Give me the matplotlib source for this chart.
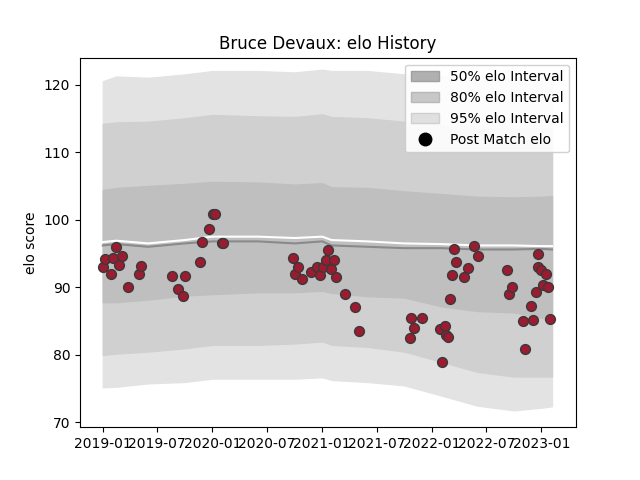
import matplotlib
matplotlib.use("Agg")
import matplotlib.pyplot as plt
import pandas as pd
from matplotlib.patches import Patch
from matplotlib.lines import Line2D

# band grid
band_dates = ["2019-01-01", "2019-02-15", "2019-06-01", "2019-10-01", "2020-01-01", "2020-06-01",
              "2020-10-01", "2021-01-01", "2021-02-01", "2021-06-01", "2021-10-01", "2022-02-01",
              "2022-06-01", "2022-10-01", "2023-01-01", "2023-02-05"]
median = [96.2, 96.4, 96.0, 96.5, 96.8, 96.8, 96.5, 96.8, 96.2, 96.0, 95.8, 95.8, 95.6, 95.6, 95.7, 95.6]
mean = [96.7, 96.9, 96.5, 97.0, 97.5, 97.5, 97.3, 97.5, 97.0, 96.8, 96.5, 96.4, 96.2, 96.2, 96.1, 96.1]
hi50 = [104.4, 104.7, 105.0, 105.3, 105.6, 105.5, 105.2, 105.4, 104.8, 104.7, 104.2, 103.8, 103.4, 103.3, 103.4, 103.5]
lo50 = [87.8, 87.8, 88.2, 88.8, 89.0, 89.3, 89.3, 89.5, 89.2, 88.7, 88.5, 87.2, 86.5, 86.3, 85.5, 85.3]
hi80 = [114.2, 114.4, 114.5, 115.0, 115.5, 115.3, 115.2, 115.6, 115.2, 115.0, 114.5, 114.0, 113.5, 113.5, 113.5, 113.5]
lo80 = [80.0, 80.2, 80.5, 81.0, 81.5, 81.5, 81.7, 82.0, 81.5, 81.2, 80.5, 79.0, 77.5, 76.8, 76.8, 76.8]
hi95 = [120.5, 121.2, 121.0, 121.5, 122.0, 122.0, 121.8, 122.2, 122.0, 122.0, 121.5, 121.2, 121.0, 121.0, 121.0, 121.0]
lo95 = [75.2, 75.3, 75.8, 76.0, 76.5, 76.5, 76.5, 76.7, 76.3, 76.0, 75.5, 74.0, 72.5, 71.8, 72.2, 72.4]

# post match elo
match_dates = ["2019-01-01", "2019-01-08", "2019-01-27", "2019-02-03", "2019-02-13", "2019-02-23",
               "2019-03-05", "2019-03-25", "2019-04-30", "2019-05-07", "2019-08-21", "2019-09-10",
               "2019-09-26", "2019-10-03", "2019-11-21", "2019-11-28", "2019-12-21", "2020-01-03",
               "2020-01-10", "2020-02-02", "2020-02-05",
               "2020-09-24", "2020-10-01", "2020-10-11", "2020-10-24", "2020-11-26", "2020-12-16",
               "2020-12-23", "2021-01-05", "2021-01-15", "2021-01-21", "2021-01-31", "2021-02-10",
               "2021-02-17", "2021-03-19", "2021-04-21", "2021-05-04",
               "2021-10-20", "2021-10-23", "2021-11-02", "2021-11-29", "2022-01-27", "2022-02-03",
               "2022-02-13", "2022-02-16", "2022-02-23", "2022-03-01", "2022-03-08", "2022-03-14",
               "2022-03-21", "2022-04-17", "2022-04-30", "2022-05-20", "2022-06-02", "2022-09-09",
               "2022-09-16", "2022-09-26", "2022-10-31", "2022-11-07", "2022-11-27", "2022-12-03",
               "2022-12-13", "2022-12-20", "2022-12-20", "2022-12-30", "2023-01-05", "2023-01-15",
               "2023-01-22", "2023-01-29"]
match_elo = [93.0, 94.2, 92.0, 94.3, 96.0, 93.3, 94.6, 90.0, 91.9, 93.2, 91.7, 89.8,
             88.7, 91.7, 93.7, 96.7, 98.6, 100.8, 100.8, 96.5, 96.5,
             94.3, 92.0, 93.0, 91.3, 92.3, 93.0, 91.8, 93.0, 94.0, 95.5, 92.7, 94.0,
             91.6, 89.0, 87.1, 83.5,
             82.5, 85.5, 84.0, 85.5, 83.8, 79.0, 84.3, 83.0, 82.6, 88.2, 91.8, 95.7,
             93.8, 91.5, 92.8, 96.1, 94.6, 92.5, 89.0, 90.0, 85.0, 80.8, 87.3, 85.2,
             89.3, 95.0, 93.0, 92.5, 90.3, 92.0, 90.0, 85.3]

bd = pd.to_datetime(band_dates)
md = pd.to_datetime(match_dates)

fig, ax = plt.subplots(figsize=(6.4, 4.8), dpi=100)
ax.fill_between(bd, lo95, hi95, color="#e3e3e3", zorder=1)
ax.fill_between(bd, lo80, hi80, color="#d0d0d0", zorder=2)
ax.fill_between(bd, lo50, hi50, color="#bfbfbf", zorder=3)
ax.plot(bd, median, color="#8a8a8a", linewidth=1.5, zorder=4)
ax.plot(bd, mean, color="white", linewidth=1.5, zorder=4)
ax.scatter(md, match_elo, s=50, color="#9b1b30", edgecolors="#3a3a3a", linewidths=1, zorder=5)

handles = [Patch(facecolor="#b0b0b0", edgecolor="#a0a0a0", label="50% elo Interval"),
           Patch(facecolor="#c8c8c8", edgecolor="#b8b8b8", label="80% elo Interval"),
           Patch(facecolor="#e0e0e0", edgecolor="#d0d0d0", label="95% elo Interval"),
           Line2D([], [], marker="o", linestyle="", color="black", markersize=9, label="Post Match elo")]
ax.legend(handles=handles, loc="upper right", framealpha=0.9)

ax.set_title("Bruce Devaux: elo History")
ax.set_ylabel("elo score")
ax.set_ylim(69.3, 124)
ax.set_yticks([70, 80, 90, 100, 110, 120])
ax.set_xlim(pd.Timestamp("2018-10-17"), pd.Timestamp("2023-04-26"))
ax.set_xticks(pd.to_datetime(["2019-01-01", "2019-07-01", "2020-01-01", "2020-07-01",
                              "2021-01-01", "2021-07-01", "2022-01-01", "2022-07-01", "2023-01-01"]))
ax.set_xticklabels(["2019-01", "2019-07", "2020-01", "2020-07", "2021-01",
                    "2021-07", "2022-01", "2022-07", "2023-01"])
fig.savefig("out.png")
